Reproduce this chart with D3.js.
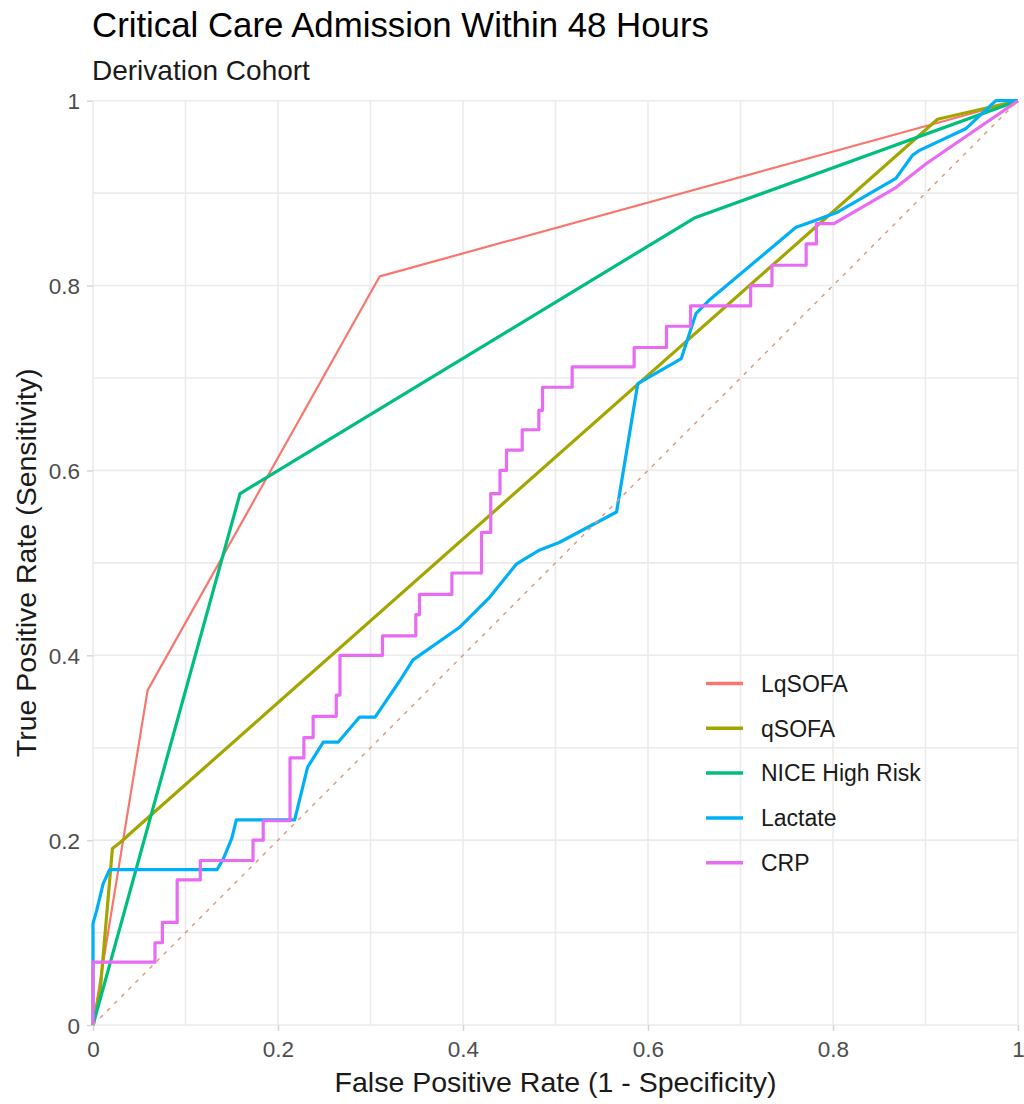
<!DOCTYPE html>
<html>
<head>
<meta charset="utf-8">
<script src="https://cdn.jsdelivr.net/npm/d3@7"></script>
<style>
  html, body { margin: 0; padding: 0; background: #ffffff; }
  svg { display: block; font-family: "Liberation Sans", Arial, sans-serif; }
</style>
</head>
<body>
<svg id="chart" width="1024" height="1104"></svg>
<script>
// ROC curves: false positive rate (fpr) vs true positive rate (tpr)
const seriesNames = ["LqSOFA", "qSOFA", "NICE High Risk", "Lactate", "CRP"];
const seriesColors = ["#F8766D", "#A3A500", "#00BF7D", "#00B0F6", "#E76BF3"];

const lqsofaFpr = [0, 0.059, 0.310, 1];
const lqsofaTpr = [0, 0.362, 0.810, 1];

const qsofaFpr = [0, 0.008, 0.021, 0.030, 0.049, 0.913, 1];
const qsofaTpr = [0, 0.040, 0.191, 0.198, 0.215, 0.980, 1];

const niceFpr = [0, 0.159, 0.650, 1];
const niceTpr = [0, 0.575, 0.873, 1];

const lactateFpr = [0, 0, 0.004, 0.011, 0.018, 0.134, 0.141, 0.150, 0.155, 0.218, 0.232, 0.249, 0.265,
  0.288, 0.305, 0.332, 0.346, 0.396, 0.429, 0.458, 0.483, 0.504, 0.566, 0.589, 0.636, 0.652, 0.666,
  0.760, 0.771, 0.804, 0.868, 0.886, 0.893, 0.944, 0.976, 1];
const lactateTpr = [0, 0.110, 0.124, 0.153, 0.168, 0.168, 0.180, 0.202, 0.222, 0.222, 0.279, 0.306, 0.306,
  0.333, 0.333, 0.373, 0.395, 0.430, 0.463, 0.499, 0.514, 0.522, 0.555, 0.694, 0.721, 0.770, 0.784,
  0.863, 0.867, 0.879, 0.916, 0.941, 0.946, 0.970, 1.000, 1];

const crpFpr = [0, 0, 0.067, 0.067, 0.075, 0.075, 0.091, 0.091, 0.116, 0.116, 0.173, 0.173, 0.184, 0.184,
  0.213, 0.213, 0.228, 0.228, 0.238, 0.238, 0.263, 0.263, 0.267, 0.267, 0.313, 0.313, 0.349, 0.349,
  0.353, 0.353, 0.388, 0.388, 0.420, 0.420, 0.430, 0.430, 0.440, 0.440, 0.447, 0.447, 0.464, 0.464,
  0.482, 0.482, 0.486, 0.486, 0.518, 0.518, 0.585, 0.585, 0.620, 0.620, 0.646, 0.646, 0.711, 0.711,
  0.734, 0.734, 0.771, 0.771, 0.782, 0.782, 0.801, 0.868, 0.901, 1];
const crpTpr = [0, 0.068, 0.068, 0.089, 0.089, 0.111, 0.111, 0.157, 0.157, 0.178, 0.178, 0.200, 0.200, 0.221,
  0.221, 0.289, 0.289, 0.311, 0.311, 0.334, 0.334, 0.357, 0.357, 0.400, 0.400, 0.421, 0.421, 0.444,
  0.444, 0.466, 0.466, 0.489, 0.489, 0.533, 0.533, 0.575, 0.575, 0.600, 0.600, 0.622, 0.622, 0.644,
  0.644, 0.665, 0.665, 0.690, 0.690, 0.712, 0.712, 0.733, 0.733, 0.756, 0.756, 0.778, 0.778, 0.800,
  0.800, 0.822, 0.822, 0.845, 0.845, 0.867, 0.867, 0.906, 0.932, 1];

const tickValues = [0, 0.2, 0.4, 0.6, 0.8, 1];
const tickLabels = ["0", "0.2", "0.4", "0.6", "0.8", "1"];
const minorValues = [0.1, 0.3, 0.5, 0.7, 0.9];

const titleText = "Critical Care Admission Within 48 Hours";
const subtitleText = "Derivation Cohort";
const xTitle = "False Positive Rate (1 - Specificity)";
const yTitle = "True Positive Rate (Sensitivity)";

const series = [
  { name: seriesNames[0], fpr: lqsofaFpr, tpr: lqsofaTpr, width: 2.2 },
  { name: seriesNames[1], fpr: qsofaFpr, tpr: qsofaTpr, width: 3.2 },
  { name: seriesNames[2], fpr: niceFpr, tpr: niceTpr, width: 3.2 },
  { name: seriesNames[3], fpr: lactateFpr, tpr: lactateTpr, width: 3.2 },
  { name: seriesNames[4], fpr: crpFpr, tpr: crpTpr, width: 3.2 }
];

const svg = d3.select("#chart");
const margin = { left: 93, right: 6, top: 100.7, bottom: 79 };
const W = 1024, H = 1104;

const x = d3.scaleLinear().domain([0, 1]).range([margin.left, W - margin.right]);
const y = d3.scaleLinear().domain([0, 1]).range([H - margin.bottom, margin.top]);
const color = d3.scaleOrdinal().domain(seriesNames).range(seriesColors);

// grid
const grid = svg.append("g").attr("stroke", "#ebebeb").attr("fill", "none");
[...minorValues, ...tickValues].forEach(v => {
  grid.append("line").attr("x1", x(v)).attr("x2", x(v)).attr("y1", y(0)).attr("y2", y(1))
    .attr("stroke-width", 1.6);
  grid.append("line").attr("x1", x(0)).attr("x2", x(1)).attr("y1", y(v)).attr("y2", y(v))
    .attr("stroke-width", 1.6);
});

// axes
const fmt = d => tickLabels[tickValues.indexOf(d)];
const xAxis = svg.append("g").attr("transform", `translate(0,${y(0)})`)
  .call(d3.axisBottom(x).tickValues(tickValues).tickFormat(fmt).tickSize(6).tickPadding(8));
const yAxis = svg.append("g").attr("transform", `translate(${x(0)},0)`)
  .call(d3.axisLeft(y).tickValues(tickValues).tickFormat(fmt).tickSize(6).tickPadding(7));
[xAxis, yAxis].forEach(a => {
  a.select(".domain").remove();
  a.selectAll(".tick line").attr("stroke", "#d6d6d6").attr("stroke-width", 1.5);
  a.selectAll(".tick text").attr("fill", "#4d4d4d")
    .style("font-family", "'Liberation Sans', Arial, sans-serif").style("font-size", "22.5px");
});
xAxis.selectAll(".tick text").attr("dy", "0.78em");
yAxis.selectAll(".tick text").attr("dy", "0.36em");

// curves
const line = d3.line().x(d => x(d[0])).y(d => y(d[1]));
const curves = svg.append("g").attr("fill", "none").attr("stroke-linejoin", "round");
series.forEach(s => {
  const pts = s.fpr.map((f, i) => [f, s.tpr[i]]);
  curves.append("path").datum(pts).attr("d", line)
    .attr("stroke", color(s.name)).attr("stroke-width", s.width);
});

// chance line
svg.append("path").datum([[0, 0], [1, 1]]).attr("d", line)
  .attr("stroke", "#D9A07E").attr("stroke-width", 1.5).attr("stroke-dasharray", "4,6").attr("fill", "none");

// legend
const legend = svg.append("g");
series.forEach((s, i) => {
  const ly = 683.5 + i * 44.8;
  legend.append("line").attr("x1", 706).attr("x2", 743).attr("y1", ly).attr("y2", ly)
    .attr("stroke", color(s.name)).attr("stroke-width", 3.5);
  legend.append("text").attr("x", 761).attr("y", ly).attr("dy", "0.36em")
    .attr("fill", "#1a1a1a").style("font-size", "23px").text(s.name);
});

// titles
svg.append("text").attr("x", 92).attr("y", 37).attr("fill", "#000").style("font-size", "34.8px").text(titleText);
svg.append("text").attr("x", 92).attr("y", 80).attr("fill", "#1a1a1a").style("font-size", "28px").text(subtitleText);
svg.append("text").attr("x", (x(0) + x(1)) / 2).attr("y", 1092).attr("text-anchor", "middle")
  .attr("fill", "#1a1a1a").style("font-size", "28.5px").text(xTitle);
svg.append("text").attr("transform", `translate(36,${(y(0) + y(1)) / 2}) rotate(-90)`)
  .attr("text-anchor", "middle").attr("fill", "#1a1a1a").style("font-size", "28.5px").text(yTitle);
</script>
</body>
</html>
